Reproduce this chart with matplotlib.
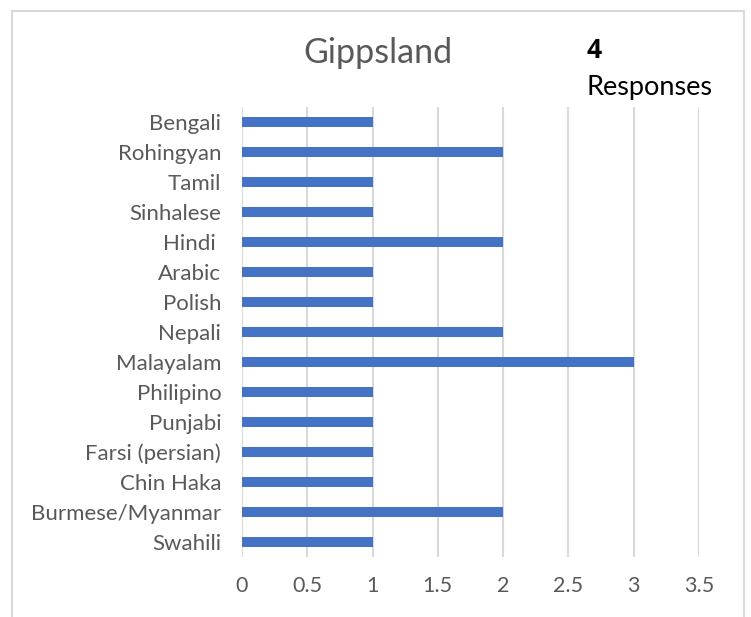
import matplotlib.pyplot as plt
from matplotlib.patches import Rectangle

plt.rcParams['font.family'] = ['Lato', 'DejaVu Sans']

languages = ["Bengali", "Rohingyan", "Tamil", "Sinhalese", "Hindi ", "Arabic", "Polish",
             "Nepali", "Malayalam", "Philipino", "Punjabi", "Farsi (persian)", "Chin Haka",
             "Burmese/Myanmar", "Swahili"]
counts = [1, 2, 1, 1, 2, 1, 1, 2, 3, 1, 1, 1, 1, 2, 1]
xticks = [0, 0.5, 1, 1.5, 2, 2.5, 3, 3.5]
xtick_labels = ["0", "0.5", "1", "1.5", "2", "2.5", "3", "3.5"]

grey = "#595959"
fig = plt.figure(figsize=(7.51, 6.17), dpi=100)
ax = fig.add_axes([0.3222, 0.0972, 0.6086, 0.7294])

ypos = list(range(len(languages)))
ax.barh(ypos, counts, height=0.35, color="#4472C4", zorder=3)
ax.set_ylim(len(languages) - 0.5, -0.5)
ax.set_xlim(0, 3.5)
ax.set_yticks(ypos)
ax.set_yticklabels(languages, fontsize=16, color=grey)
ax.set_xticks(xticks)
ax.set_xticklabels(xtick_labels, fontsize=15.5, color=grey)
ax.tick_params(axis='both', length=0)
ax.tick_params(axis='y', pad=15)
ax.tick_params(axis='x', pad=14)
ax.grid(axis='x', color="#D9D9D9", linewidth=1.5, zorder=0)
for s in ax.spines.values():
    s.set_visible(False)

fig.text(0.503, 0.914, "Gippsland", fontsize=24.5, color=grey, ha='center', va='center')
fig.text(0.781, 0.918, "4", fontsize=19, fontweight='bold', family=['Open Sans', 'DejaVu Sans'],
         color='black', ha='left', va='center')
fig.text(0.781, 0.858, "Responses", fontsize=19.5, color='black', ha='left', va='center')

fig.patches.append(Rectangle((12 / 751, -0.05), (744 - 12) / 751, 1.05 - 11 / 617,
                             transform=fig.transFigure, fill=False,
                             edgecolor="#D9D9D9", linewidth=1.5))

fig.savefig("out.png", dpi=100)
